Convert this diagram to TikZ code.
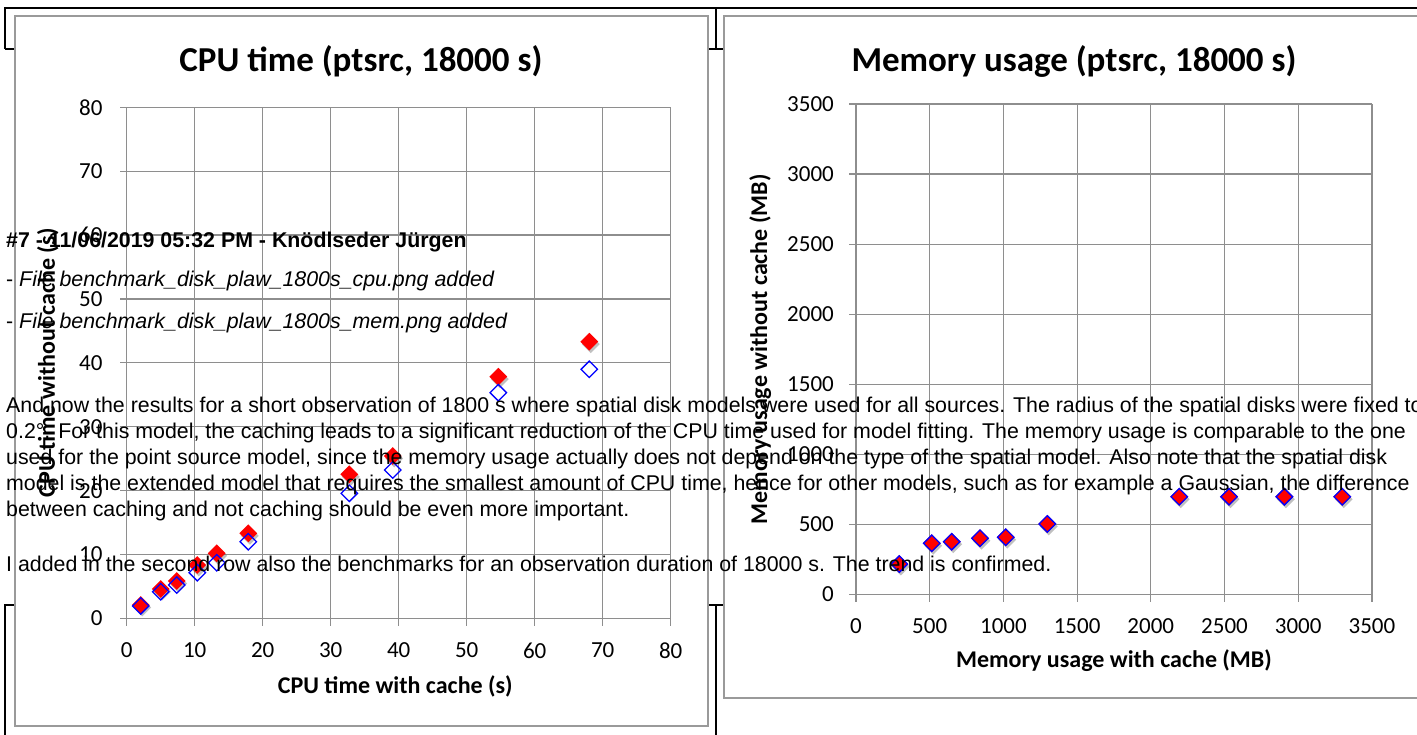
\documentclass[tikz,border=0pt]{standalone}
\usepackage{fontspec}
\setmainfont{Liberation Sans}
\newfontfamily\calfont{Carlito}
\usetikzlibrary{shapes.geometric,shadows}
\definecolor{gridgray}{HTML}{8E8E8E}
\definecolor{boxgray}{HTML}{9A9A9A}
\definecolor{dred}{HTML}{FF0000}
\definecolor{dblue}{HTML}{0000FF}
\begin{document}
\begin{tikzpicture}[x=1pt,y=-1pt,
  frame/.style={draw=black,line width=1.4pt},
  chartbox/.style={draw=boxgray,fill=white,line width=1.5pt},
  gridline/.style={draw=gridgray,line width=1.2pt},
  ticklbl/.style={font=\calfont\fontsize{23}{23}\selectfont,inner sep=0pt},
  charttitle/.style={font=\calfont\bfseries\fontsize{35}{35}\selectfont,inner sep=0pt,anchor=base},
  axlabel/.style={font=\calfont\bfseries\fontsize{24}{24}\selectfont,inner sep=0pt},
  reddia/.style={diamond,fill=dred,minimum width=18pt,minimum height=18pt,inner sep=0pt,
    drop shadow={shadow xshift=1.5pt,shadow yshift=-2.5pt,opacity=0.35,fill=black!70}},
  bluedia/.style={diamond,draw=dblue,line width=1.3pt,minimum width=17pt,minimum height=17pt,inner sep=0pt},
  txt/.style={font=\fontsize{21.35}{26}\selectfont,inner sep=0pt,anchor=base west}
]
\useasboundingbox (0,0) rectangle (1417,735);
\fill[white] (0,0) rectangle (1417,735);

% black table frame behind the charts
\draw[frame] (5,49) -- (5,8) -- (1425,8);
\draw[frame] (716,8) -- (716,49);
\draw[frame] (5,49) -- (1425,49);
\draw[frame] (5,740) -- (5,605) -- (1425,605);
\draw[frame] (716,605) -- (716,740);

% chart boxes
\draw[chartbox] (15,16) rectangle (708,726);
\draw[chartbox] (724,16) rectangle (1430,698);

% ---------------- left chart: CPU time ----------------
\node[charttitle] (t1) at (361,72) {CPU time (ptsrc, 18000 s)};
\begin{scope}[shift={(126.7,618.5)},x=6.8pt,y=6.39pt]
  \foreach \i in {0,10,...,80} {
    \draw[gridline] (\i,0) -- (\i,80);
    \draw[gridline] (\i,0) -- ++(0pt,-7pt);
    \draw[gridline] (0,\i) -- (80,\i);
    \draw[gridline] (0,\i) -- ++(-7pt,0pt);
    \node[ticklbl,anchor=east,xshift=-24pt] (ly\i) at (0,\i) {\i};
    \node[ticklbl,anchor=center,yshift=-32pt] (lx\i) at (\i,0) {\i};
  }
  \node[axlabel] (xa1) at (39.5,-10.7) {CPU time with cache (s)};
  \node[axlabel,rotate=90] (ya1) at (-11.6,40) {CPU time without cache (s)};
  % series with red filled diamonds
  \node[reddia] (r1) at (2.06,2.11) {};
  \node[reddia] (r2) at (5.00,4.62) {};
  \node[reddia] (r3) at (7.35,5.87) {};
  \node[reddia] (r4) at (10.38,8.37) {};
  \node[reddia] (r5) at (13.24,10.20) {};
  \node[reddia] (r6) at (17.88,13.33) {};
  \node[reddia] (r7) at (32.74,22.57) {};
  \node[reddia] (r8) at (39.12,25.43) {};
  \node[reddia] (r9) at (54.65,37.84) {};
  \node[reddia] (r10) at (68.03,43.32) {};
  % series with open blue diamonds
  \node[bluedia] (b1) at (2.06,1.96) {};
  \node[bluedia] (b2) at (5.00,4.19) {};
  \node[bluedia] (b3) at (7.35,5.24) {};
  \node[bluedia] (b4) at (10.38,7.17) {};
  \node[bluedia] (b5) at (13.24,8.73) {};
  \node[bluedia] (b6) at (17.88,12.02) {};
  \node[bluedia] (b7) at (32.74,19.59) {};
  \node[bluedia] (b8) at (39.12,23.24) {};
  \node[bluedia] (b9) at (54.65,35.34) {};
  \node[bluedia] (b10) at (68.03,39.00) {};
\end{scope}

% ---------------- right chart: memory usage ----------------
\node[charttitle] (t2) at (1074,72) {Memory usage (ptsrc, 18000 s)};
\begin{scope}[shift={(856,594.6)},x=0.1474pt,y=0.1402pt]
  \foreach \i in {0,500,...,3500} {
    \draw[gridline] (\i,0) -- (\i,3500);
    \draw[gridline] (\i,0) -- ++(0pt,-7pt);
    \draw[gridline] (0,\i) -- (3500,\i);
    \draw[gridline] (0,\i) -- ++(-7pt,0pt);
    \node[ticklbl,anchor=east,xshift=-22pt] (my\i) at (0,\i) {\i};
    \node[ticklbl,anchor=center,yshift=-32pt] (mx\i) at (\i,0) {\i};
  }
  \node[axlabel] (xa2) at (1750,-470) {Memory usage with cache (MB)};
  \node[axlabel,rotate=90] (ya2) at (-650,1750) {Memory usage without cache (MB)};
  \node[reddia] (mr1) at (294,218) {};
  \node[reddia] (mr2) at (514,366) {};
  \node[reddia] (mr3) at (649,377) {};
  \node[reddia] (mr4) at (841,402) {};
  \node[reddia] (mr5) at (1016,409) {};
  \node[reddia] (mr6) at (1298,504) {};
  \node[reddia] (mr7) at (2193,698) {};
  \node[reddia] (mr8) at (2531,698) {};
  \node[reddia] (mr9) at (2906,698) {};
  \node[reddia] (mr10) at (3299,698) {};
  \node[bluedia] (mb1) at (294,218) {};
  \node[bluedia] (mb2) at (514,366) {};
  \node[bluedia] (mb3) at (649,377) {};
  \node[bluedia] (mb4) at (841,402) {};
  \node[bluedia] (mb5) at (1016,409) {};
  \node[bluedia] (mb6) at (1298,504) {};
  \node[bluedia] (mb7) at (2193,698) {};
  \node[bluedia] (mb8) at (2531,698) {};
  \node[bluedia] (mb9) at (2906,698) {};
  \node[bluedia] (mb10) at (3299,698) {};
\end{scope}

% ---------------- overlaid page text ----------------
\node[txt] (head) at (6,247.7) {\bfseries \#7 - 11/06/2019 05:32 PM - Knödlseder Jürgen};
\node[txt] (f1) at (6,286.7) {- \itshape File benchmark\_disk\_plaw\_1800s\_cpu.png added};
\node[txt] (f2) at (6,328.3) {- \itshape File benchmark\_disk\_plaw\_1800s\_mem.png added};
\node[txt] (p1) at (6,412) {And now the results for a short observation of 1800 s where spatial disk models were used for all sources. The radius of the spatial disks were fixed to};
\node[txt] (p2) at (6,438) {0.2°. For this model, the caching leads to a significant reduction of the CPU time used for model fitting. The memory usage is comparable to the one};
\node[txt] (p3) at (6,464) {used for the point source model, since the memory usage actually does not depend on the type of the spatial model. Also note that the spatial disk};
\node[txt] (p4) at (6,490) {model is the extended model that requires the smallest amount of CPU time, hence for other models, such as for example a Gaussian, the difference};
\node[txt] (p5) at (6,516) {between caching and not caching should be even more important.};
\node[txt] (p6) at (6,571.7) {I added in the second row also the benchmarks for an observation duration of 18000 s. The trend is confirmed.};
\end{tikzpicture}
\end{document}
